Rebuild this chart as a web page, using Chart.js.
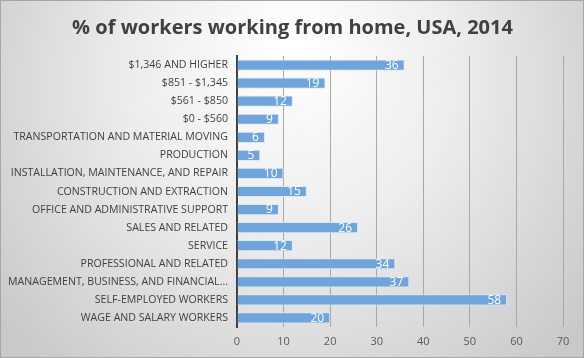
<!DOCTYPE html>
<html><head><meta charset="utf-8">
<script src="https://cdn.jsdelivr.net/npm/chart.js@4/dist/chart.umd.min.js"></script>
<style>html,body{margin:0;padding:0;background:#fff}#wrap{width:584px;height:358px;position:relative}</style>
</head><body><div id="wrap"><canvas id="c" width="584" height="358"></canvas></div>
<script>
const categories = [
  "$1,346 AND HIGHER",
  "$851 - $1,345",
  "$561 - $850",
  "$0 - $560",
  "TRANSPORTATION AND MATERIAL MOVING",
  "PRODUCTION",
  "INSTALLATION, MAINTENANCE, AND REPAIR",
  "CONSTRUCTION AND EXTRACTION",
  "OFFICE AND ADMINISTRATIVE SUPPORT",
  "SALES AND RELATED",
  "SERVICE",
  "PROFESSIONAL AND RELATED",
  "MANAGEMENT, BUSINESS, AND FINANCIAL...",
  "SELF-EMPLOYED WORKERS",
  "WAGE AND SALARY WORKERS"
];
const values = [36, 19, 12, 9, 6, 5, 10, 15, 9, 26, 12, 34, 37, 58, 20];
const xTicks = [0, 10, 20, 30, 40, 50, 60, 70];
const titleText = "% of workers working from home, USA, 2014";

const bgPlugin = {
  id: 'bg',
  beforeDraw(chart) {
    const ctx = chart.ctx, w = chart.width, h = chart.height;
    ctx.save();
    const g = ctx.createRadialGradient(w*0.5, h*0.12, 10, w*0.5, h*0.3, w*0.62);
    g.addColorStop(0, '#ffffff');
    g.addColorStop(0.45, '#ececec');
    g.addColorStop(1, '#c9c9c9');
    ctx.fillStyle = g;
    ctx.fillRect(0, 0, w, h);
    ctx.strokeStyle = '#a6a6a6';
    ctx.lineWidth = 1;
    ctx.strokeRect(0.5, 0.5, w-1, h-1);
    ctx.font = 'bold 20px "Open Sans", "Liberation Sans", sans-serif';
    ctx.fillStyle = '#404040';
    ctx.textAlign = 'center';
    ctx.textBaseline = 'middle';
    ctx.fillText(titleText, w/2 + 0.5, 28);
    ctx.restore();
  }
};
const labelPlugin = {
  id: 'vals',
  afterDatasetsDraw(chart) {
    const ctx = chart.ctx;
    const meta = chart.getDatasetMeta(0);
    ctx.save();
    ctx.font = '12px "Open Sans", "Liberation Sans", sans-serif';
    ctx.fillStyle = '#ffffff';
    ctx.textAlign = 'right';
    ctx.textBaseline = 'middle';
    meta.data.forEach((bar, i) => {
      ctx.fillText(String(values[i]), bar.x - 6, bar.y + 0.5);
    });
    ctx.restore();
  }
};

new Chart(document.getElementById('c'), {
  type: 'bar',
  data: {
    labels: categories,
    datasets: [{
      data: values,
      backgroundColor: '#6fa5da',
      borderColor: '#dbe8f5',
      borderWidth: 1,
      borderSkipped: 'start',
      barPercentage: 0.62,
      categoryPercentage: 1.0
    }]
  },
  options: {
    indexAxis: 'y',
    responsive: false,
    animation: false,
    layout: { padding: { left: 0, right: 21, top: 56, bottom: 0 } },
    plugins: {
      legend: { display: false },
      tooltip: { enabled: false },
      title: { display: false }
    },
    scales: {
      x: {
        min: 0, max: 70,
        afterBuildTicks(s) { s.ticks = xTicks.map(v => ({ value: v })); },
        afterFit(s) { s.height = 31; },
        grid: { color: '#a8a8a8', drawTicks: false, lineWidth: 1 },
        border: { display: false },
        ticks: { color: '#595959', padding: 8, font: { family: '"Open Sans", "Liberation Sans", sans-serif', size: 11 } }
      },
      y: {
        afterFit(s) { s.width = 237; },
        grid: { display: false, drawTicks: false },
        border: { display: true, color: '#404040', width: 2 },
        ticks: { color: '#404040', padding: 9, autoSkip: false, font: { family: '"Open Sans", "Liberation Sans", sans-serif', size: 10.6 } }
      }
    }
  },
  plugins: [bgPlugin, labelPlugin]
});
</script></body></html>
